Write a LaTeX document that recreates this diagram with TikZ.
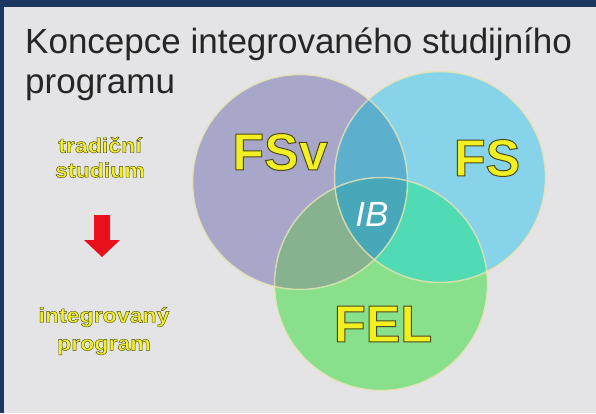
\documentclass[tikz,border=0pt]{standalone}
\usepackage{fontspec}
\setmainfont{Liberation Sans}
\definecolor{navy}{HTML}{1B365F}
\definecolor{panel}{HTML}{E4E4E6}
\definecolor{fsvcol}{HTML}{A9A7C9}
\definecolor{fscol}{HTML}{86D3EA}
\definecolor{felcol}{HTML}{88E08C}
\definecolor{abcol}{HTML}{5DAFCE}
\definecolor{accol}{HTML}{86B28F}
\definecolor{bccol}{HTML}{50DBB5}
\definecolor{abccol}{HTML}{47A8BA}
\definecolor{ringcol}{HTML}{E4E2B2}
\definecolor{yel}{HTML}{F2F022}
\definecolor{arrowred}{HTML}{E8101A}
\newcommand{\outlinetxt}[2]{\special{pdf:literal direct 2 Tr #2 w 0.29 0.29 0.09 RG}#1\special{pdf:literal direct 0 Tr}}
\begin{document}
\begin{tikzpicture}[x=1pt,y=-1pt,
  title/.style={anchor=base west,inner sep=0pt,text=black!85,font=\fontsize{35}{40}\selectfont},
  biglbl/.style={inner sep=0pt,text=yel,font=\fontsize{52}{56}\selectfont\bfseries},
  smalllbl/.style={inner sep=0pt,text=yel,xscale=1.1,font=\fontsize{21}{24}\selectfont\bfseries},
  ring/.style={draw=ringcol,line width=1.5pt}]
\useasboundingbox (0,0) rectangle (596,413);
\fill[navy] (0,0) rectangle (596,413);
\fill[panel] (4,7) rectangle (596,413);
% title
\node[title] (t1) at (25,53) {Koncepce integrovaného studijního};
\node[title] (t2) at (25,93) {programu};
% circles
\coordinate (cA) at (300,182);
\coordinate (cB) at (440,177);
\coordinate (cC) at (381,284);
\fill[fsvcol] (cA) circle (107);
\fill[fscol] (cB) circle (105);
\fill[felcol] (cC) circle (106);
\begin{scope}
  \clip (cA) circle (107);
  \fill[abcol] (cB) circle (105);
  \fill[accol] (cC) circle (106);
\end{scope}
\begin{scope}
  \clip (cB) circle (105);
  \fill[bccol] (cC) circle (106);
\end{scope}
\begin{scope}
  \clip (cA) circle (107);
  \clip (cB) circle (105);
  \fill[abccol] (cC) circle (106);
\end{scope}
\draw[ring,opacity=0.8] (cA) circle (107.5);
\draw[ring,opacity=0.8] (cB) circle (105.5);
\draw[ring,opacity=0.8] (cC) circle (106.5);
% big labels
\node[biglbl] (fsv) at (280,152) {\outlinetxt{FSv}{1}};
\node[biglbl] (fs) at (487,158) {\outlinetxt{FS}{1}};
\node[biglbl] (fel) at (383,324) {\outlinetxt{FEL}{1}};
\node[inner sep=0pt,text=white,font=\fontsize{35}{38}\selectfont\itshape] (ib) at (372,214) {IB};
% left texts
\node[smalllbl] (tr1) at (100,145) {\outlinetxt{tradiční}{0.4}};
\node[smalllbl] (tr2) at (100,170) {\outlinetxt{studium}{0.4}};
\node[smalllbl] (in1) at (104,317) {\outlinetxt{integrovaný}{0.4}};
\node[smalllbl] (in2) at (104,347) {\outlinetxt{program}{0.4}};
% red arrow
\fill[arrowred] (94,215) -- (110,215) -- (110,240) -- (120,240) -- (102,257) -- (84,240) -- (94,240) -- cycle;
\end{tikzpicture}
\end{document}
